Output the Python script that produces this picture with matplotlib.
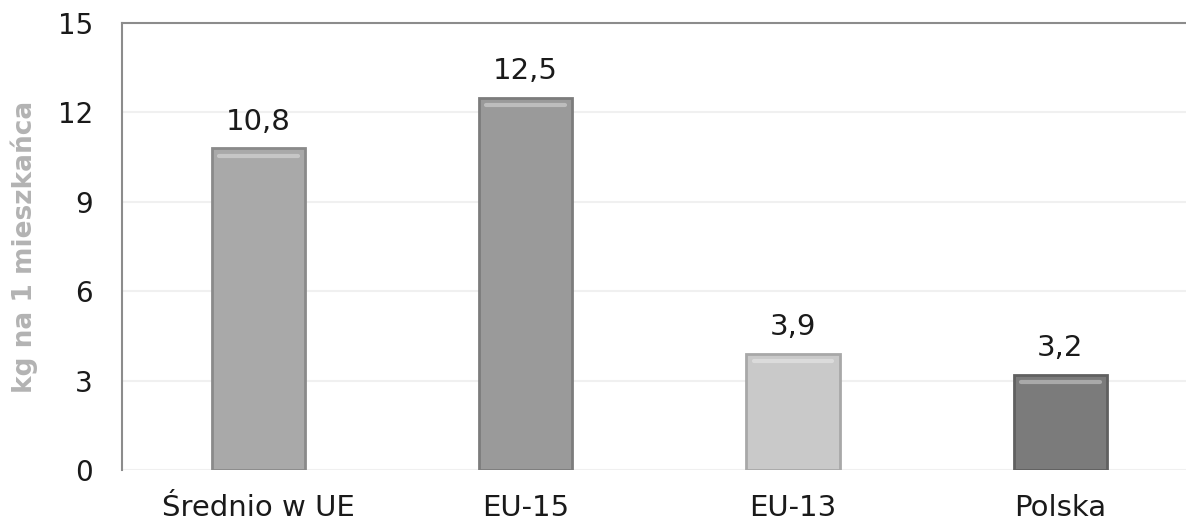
import matplotlib.pyplot as plt
import numpy as np

# kg per inhabitant
categories = ['Średnio w UE', 'EU-15', 'EU-13', 'Polska']
values = [10.8, 12.5, 3.9, 3.2]
labels = ['10,8', '12,5', '3,9', '3,2']
bar_colors = ['#a9a9a9', '#9a9a9a', '#c9c9c9', '#7b7b7b']
edge_colors = ['#8a8a8a', '#7c7c7c', '#a8a8a8', '#606060']

fig = plt.figure(figsize=(11.86, 5.30), dpi=100)
ax = fig.add_axes([0.1029, 0.1132, 0.8971, 0.8434])

x = np.arange(len(categories))
bars = ax.bar(x, values, width=0.35, color=bar_colors, edgecolor=edge_colors,
              linewidth=2, zorder=3)

# light highlight strip near top of each bar (bevel look)
for b, c in zip(bars, bar_colors):
    x0 = b.get_x()
    w = b.get_width()
    h = b.get_height()
    ax.plot([x0 + w * 0.08, x0 + w * 0.92], [h - 0.25, h - 0.25],
            color='white', alpha=0.35, lw=3, zorder=4, solid_capstyle='round')

for xi, v, lab in zip(x, values, labels):
    ax.annotate(lab, (xi, v), xytext=(0, 9), textcoords='offset points',
                ha='center', va='bottom', fontsize=21, color='#1a1a1a')

ax.set_ylim(0, 15)
ax.set_xlim(-0.51, 3.47)
ax.set_yticks([0, 3, 6, 9, 12, 15])
ax.set_xticks(x)
ax.set_xticklabels(categories)
ax.tick_params(axis='y', length=0, pad=21, labelsize=20, labelcolor='#1a1a1a')
ax.tick_params(axis='x', length=0, pad=17, labelsize=21, labelcolor='#1a1a1a')

ax.yaxis.grid(True, color='#f0f0f0', lw=1.5, zorder=0)
ax.set_axisbelow(True)

for s in ['right', 'bottom']:
    ax.spines[s].set_visible(False)
for s in ['left', 'top']:
    ax.spines[s].set_color('#8c8c8c')
    ax.spines[s].set_linewidth(1.5)

ax.set_ylabel('kg na 1 mieszkańca', fontsize=19, fontweight='bold',
              color='#b3b3b3')
ax.yaxis.set_label_coords(-0.079, 0.5)

fig.savefig('out.png', dpi=100)
